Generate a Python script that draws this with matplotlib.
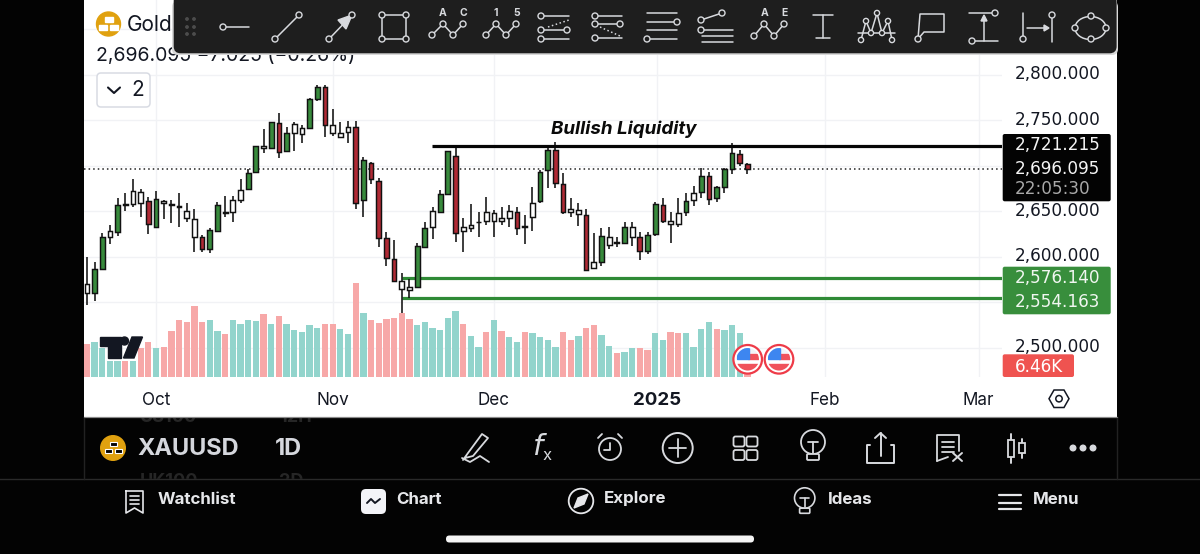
import matplotlib
matplotlib.use("Agg")
import matplotlib.pyplot as plt
from matplotlib.patches import Circle, Ellipse, FancyBboxPatch, Polygon, Rectangle
from matplotlib.transforms import ScaledTranslation

plt.rcParams['font.family'] = ['Inter', 'DejaVu Sans']

# ---------- data ----------
high = [2600.1,2594.6,2625.7,2634.9,2664.2,2670.4,2685.4,2674.1,2665.3,2672.6,2662.3,2662.3,2669.7,2659.4,2652.5,2623.9,2631.2,2660.5,2666.7,2666.7,2685.1,2696.4,2721.7,2740.0,2748.4,2758.3,2742.9,2747.7,2744.8,2774.1,2789.1,2789.1,2762.0,2747.7,2749.5,2749.2,2710.0,2704.5,2686.2,2626.8,2618.4,2581.8,2575.5,2614.7,2638.5,2655.0,2673.3,2716.5,2722.5,2642.2,2657.9,2649.5,2666.0,2651.3,2655.0,2656.8,2655.0,2645.4,2676.2,2695.3,2720.9,2725.7,2692.3,2664.1,2658.6,2652.0,2626.4,2631.5,2633.0,2621.3,2638.5,2638.1,2627.5,2627.1,2660.5,2664.9,2649.1,2664.1,2669.6,2678.1,2697.1,2693.4,2677.7,2697.1,2724.6,2717.2,2702.6]
body_top = [2569.7,2586.2,2622.0,2627.9,2656.8,2657.9,2672.2,2671.5,2661.2,2663.1,2661.2,2657.9,2655.4,2650.6,2641.5,2621.3,2629.0,2656.5,2648.8,2662.0,2673.3,2692.0,2721.3,2722.1,2748.4,2746.6,2735.6,2745.9,2741.5,2773.3,2786.5,2786.2,2744.8,2735.6,2742.9,2742.2,2706.3,2703.4,2682.9,2620.2,2597.5,2572.9,2566.7,2611.7,2631.9,2649.8,2669.3,2715.8,2710.7,2632.3,2635.2,2638.5,2649.5,2648.4,2642.9,2649.8,2648.7,2633.4,2659.4,2693.4,2717.2,2716.9,2679.9,2652.0,2651.7,2646.2,2593.8,2622.7,2622.0,2615.8,2633.0,2632.6,2621.3,2623.8,2657.5,2656.8,2639.2,2648.0,2660.8,2669.6,2688.3,2688.3,2676.6,2696.0,2714.3,2713.2,2702.2]
body_bottom = [2559.8,2559.8,2586.5,2622.0,2627.5,2656.8,2657.6,2658.7,2635.6,2633.0,2658.7,2656.5,2654.6,2642.6,2622.0,2608.1,2608.1,2628.6,2648.1,2649.5,2662.3,2674.8,2693.5,2719.9,2719.1,2715.5,2716.6,2735.6,2734.5,2741.1,2773.0,2744.4,2736.0,2731.9,2737.4,2659.4,2662.7,2685.1,2620.2,2598.2,2573.3,2564.9,2563.4,2567.1,2611.0,2632.6,2649.5,2669.3,2625.7,2627.9,2631.2,2637.8,2639.6,2638.9,2639.2,2642.9,2631.5,2632.6,2643.2,2661.2,2695.6,2681.0,2648.7,2649.1,2646.5,2585.4,2587.9,2594.2,2612.5,2615.0,2615.4,2622.0,2605.9,2605.9,2624.9,2639.6,2635.9,2635.6,2648.7,2662.3,2670.7,2663.4,2664.1,2676.6,2696.0,2703.0,2696.0]
low = [2547.0,2551.3,2585.4,2614.0,2622.8,2649.9,2655.0,2643.3,2625.0,2633.0,2641.1,2636.7,2632.3,2638.2,2605.2,2605.6,2604.5,2628.3,2644.0,2638.2,2658.7,2673.3,2692.4,2714.4,2718.4,2708.9,2716.2,2716.6,2724.6,2740.0,2771.5,2731.9,2732.7,2731.9,2724.6,2652.5,2643.3,2679.9,2610.3,2589.8,2572.6,2537.8,2554.2,2566.3,2610.6,2619.1,2649.1,2668.5,2616.1,2605.5,2627.5,2621.3,2634.5,2622.0,2634.5,2632.3,2623.8,2613.6,2627.9,2658.6,2675.9,2675.1,2646.5,2644.0,2633.7,2584.6,2586.8,2589.8,2608.5,2610.3,2614.7,2611.7,2596.4,2603.0,2622.7,2636.7,2614.7,2633.0,2645.1,2655.7,2664.5,2657.2,2659.7,2669.6,2690.5,2700.0,2691.2]
body_kind = list("WGGWGWWWRGWWWWWRGGWWWGGWGRGWWGGRWWWRGRRRRW" "WGGWGGRWWWWWWWRWWGGRRWWRWGWWGWRGGRWWGWGRGGGRR")
volume_k = [52.8,56.5,45.9,26.1,26.1,26.1,26.1,45.9,56.5,46.9,48.5,73.6,91.2,88.5,113.6,87.5,91.2,73.6,68.3,91.2,84.3,91.2,89.6,100.3,84.8,97.6,84.8,75.2,71.5,83.2,77.9,85.3,84.3,76.8,68.8,149.9,101.9,91.7,86.9,92.8,94.9,102.9,93.3,83.2,88.0,77.9,74.7,94.9,106.1,84.8,66.1,47.5,71.5,91.2,74.1,64.0,55.5,71.5,70.4,64.0,59.7,47.5,72.0,59.7,65.1,78.4,83.2,67.2,49.1,37.9,40.0,46.9,46.9,42.7,70.4,59.2,72.5,69.9,69.9,48.0,76.3,88.0,76.8,74.7,83.7,70.4,6.46]
volume_dir = list("RTTTTRTRRTRRRRRRTTRTTTTRTRTTTTTRRTTRTRRRRR" "RTTTTTTRTTRTRTTRTTTTRRTRRTTRTTRRTTRRTTTTRTTTRR")

x_tick_pos = [9, 32, 53, 74.2, 96.1, 116.1]
x_tick_labels = ['Oct', 'Nov', 'Dec', '2025', 'Feb', 'Mar']
grid_prices = [2500, 2550, 2600, 2650, 2700, 2750, 2800, 2850]
labelled_prices = [2500, 2600, 2650, 2750, 2800]
price_labels = ['2,500.000', '2,600.000', '2,650.000', '2,750.000', '2,800.000']
last_price = 2696.095
resistance = 2721.215
support_levels = [2576.140, 2554.163]

W, H = 1200, 554
GREEN, RED = '#388a3c', '#b02a35'
KIND = {'W': '#ffffff', 'G': GREEN, 'R': RED}
VOLC = {'T': '#92d4cc', 'R': '#f7a8a8'}
ICON = '#d8dade'
ONDARK = '#e6e7ea'
PRICE_FONT = ['DejaVu Sans']

fig = plt.figure(figsize=(W / 100, H / 100), dpi=100, facecolor='#030303')


def rect_px(l, t, r, b):
    return [l / W, 1 - b / H, (r - l) / W, (b - t) / H]


def overlay(z):
    a = fig.add_axes([0, 0, 1, 1], zorder=z, facecolor='none')
    a.set_xlim(0, W)
    a.set_ylim(H, 0)
    a.axis('off')
    return a


# white panel and ghost rows behind it
back = overlay(0)
for gy, sym, tf in ((417, 'US100', '12H'), (482, 'UK100', '2D')):
    back.text(140, gy, sym, color='#262626', fontsize=13, fontweight='bold', va='center')
    back.text(279, gy, tf, color='#262626', fontsize=13, fontweight='bold', va='center')
back.add_patch(Rectangle((0, 479), W, 75, color='#030303', zorder=5))
back.add_patch(Rectangle((84, 0), 1032.5, 417, facecolor='#ffffff', edgecolor='none', zorder=6))
back.plot([84, 1116.5], [417.3, 417.3], color='#8a8a8a', lw=0.9, zorder=7)
back.plot([0, W], [479, 479], color='#2a2a2a', lw=1, zorder=7)
for xx in (83.5, 1116.5):
    back.plot([xx, xx], [418, 479], color='#222222', lw=1, zorder=7)

pos = rect_px(84, 0, 1002, 377)
xlim = (-0.378, 119.15)
ylim = (2467.8, 2882.1)

# grid
gax = fig.add_axes(pos, zorder=1, facecolor='none')
gax.set_xlim(xlim)
gax.set_ylim(ylim)
gax.set_xticks(x_tick_pos)
gax.set_yticks(grid_prices)
gax.tick_params(length=0, labelbottom=False, labelleft=False)
gax.grid(True, color='#f1f2f5', lw=1)
for s in gax.spines.values():
    s.set_visible(False)

# volume
vax = fig.add_axes(pos, zorder=2, facecolor='none')
vax.set_xlim(xlim)
vax.set_ylim(0, 603.2)
vax.axis('off')
xs = list(range(len(high)))
vax.bar(xs, volume_k, width=0.82, color=[VOLC[d] for d in volume_dir], linewidth=0)

# candles
ax = fig.add_axes(pos, zorder=3, facecolor='none')
ax.set_xlim(xlim)
ax.set_ylim(ylim)
ax.vlines(xs, low, high, color='#111111', lw=1.15, zorder=3)
ax.bar(xs, [t - b for t, b in zip(body_top, body_bottom)], bottom=body_bottom, width=0.62,
       color=[KIND[k] for k in body_kind], edgecolor='#111111', linewidth=1.05, zorder=4)
ax.axhline(last_price, color='#222222', lw=1.1, ls=(0, (1, 2)), zorder=2)
ax.hlines(resistance, 44.9, xlim[1], color='#050505', lw=2.3, zorder=5)
ax.hlines(support_levels, 41.0, xlim[1], color='#2f8a36', lw=2.3, zorder=2)
ax.text(69.9, 2740.5, 'Bullish Liquidity', ha='center', va='center', fontsize=13.5,
        fontweight='bold', fontstyle='italic', color='#0a0a0a')

ax.set_xticks(x_tick_pos)
ax.set_xticklabels(x_tick_labels, fontsize=12.3, color='#131722')
ax.set_yticks(labelled_prices)
ax.set_yticklabels(price_labels, fontsize=12.2, color='#131722', family=PRICE_FONT)
ax.yaxis.tick_right()
ax.tick_params(axis='both', length=0)
ax.tick_params(axis='x', pad=10.7)
ax.tick_params(axis='y', pad=9.5)
for s in ax.spines.values():
    s.set_visible(False)
ax.get_xticklabels()[3].set_fontweight('bold')
ax.get_xticklabels()[3].set_fontsize(13.5)
up = ScaledTranslation(0, 0.026, fig.dpi_scale_trans)
for lbl in ax.get_yticklabels():
    lbl.set_transform(lbl.get_transform() + up)

# ---------- interface overlay in pixels ----------
o = overlay(10)


def poly(pts, **k):
    k.setdefault('closed', False)
    k.setdefault('fill', False)
    o.add_patch(Polygon(pts, **k))


def line(pts, c=ICON, lw=1.1, ls='-', z=12):
    o.plot([p[0] for p in pts], [p[1] for p in pts], color=c, lw=lw, ls=ls, zorder=z,
           solid_capstyle='round')


def ring(x, y, r=3, c=ICON, fc='#1e1e1e', lw=1.0, z=13):
    o.add_patch(Circle((x, y), r, facecolor=fc, edgecolor=c, lw=lw, zorder=z))


def rbox(l, t, r, b, rad, fc, ec='none', lw=0, z=9):
    o.add_patch(FancyBboxPatch((l + rad, t + rad), r - l - 2 * rad, b - t - 2 * rad,
                               boxstyle=f'round,pad={rad},rounding_size={rad}',
                               facecolor=fc, edgecolor=ec, lw=lw, zorder=z))


def wave(xsv, low_y=35, high_y=24):
    pts = [(xsv[0], low_y), (xsv[1], high_y), (xsv[2], low_y), (xsv[3], high_y)]
    line(pts)
    for p in pts:
        ring(*p)


# legend
o.add_patch(Circle((108.5, 24), 12, color='#e0a10f', zorder=2))
for bx, by in ((108.5, 19), (103, 27), (114, 27)):
    o.add_patch(Rectangle((bx - 4, by - 2.5), 8, 5, color='#ffffff', zorder=3))
o.text(127, 25, 'Gold', fontsize=15, color='#131722', va='center', zorder=2)
o.text(96, 56, '2,696.095 \u22127.025 (\u22120.26%)', fontsize=14, color='#131722', va='center', zorder=2)
rbox(97, 73, 150, 107, 4, '#ffffff', ec='#d8dbe3', lw=1.1, z=2)
line([(108, 87.5), (114, 93), (120, 87.5)], c='#131722', lw=1.5, z=3)
o.text(137.5, 90, '2', fontsize=15, color='#131722', ha='center', va='center', zorder=3)

# TradingView mark
NAVY = '#131722'
poly([(100, 337), (120.5, 337), (120.5, 358), (108, 358), (108, 345.5), (100, 345.5)], closed=True, fill=True, color=NAVY, zorder=6)
o.add_patch(Circle((124.5, 341), 4, color=NAVY, zorder=6))
poly([(132, 337), (142.5, 337), (134, 358), (123.5, 358)], closed=True, fill=True, color=NAVY, zorder=6)

# event flags
for fx in (747.7, 779):
    o.add_patch(Circle((fx, 359.3), 14.3, facecolor='#ffffff', edgecolor='#ee3b48', lw=1.6, zorder=6))
    clip = Circle((fx, 359.3), 11.2, transform=o.transData)
    for (l, t, w, h, c) in ((fx - 11, 348, 22, 4, '#f2f4f8'), (fx, 354, 11, 5, '#f0525c'),
                            (fx - 11, 364, 22, 7, '#f0525c'), (fx - 11, 348, 12, 11, '#3d86f0')):
        r = Rectangle((l, t), w, h, color=c, zorder=7)
        o.add_patch(r)
        r.set_clip_path(clip)

# price tags
rbox(1002.7, 134, 1110.7, 201.3, 2, '#030303', z=6)
rbox(1002.7, 266.7, 1110.7, 314.3, 2, '#388e3c', z=6)
rbox(1002.7, 354.3, 1074, 377, 2, '#ef5350', z=6)
for ty, tx, tc in ((145, '2,721.215', '#f4f4f4'), (169, '2,696.095', '#f4f4f4'), (188.5, '22:05:30', '#a8a8a8'),
                   (278, '2,576.140', '#f0f6f0'), (302, '2,554.163', '#f0f6f0'), (367, '6.46K', '#ffffff')):
    o.text(1015, ty, tx, fontsize=12.2, color=tc, va='center', zorder=7, family=PRICE_FONT)
poly([(1049, 398.7), (1054, 390), (1064, 390), (1069, 398.7), (1064, 407.5), (1054, 407.5)], closed=True,
     ec='#131722', lw=1.1, zorder=6)
o.add_patch(Circle((1059, 398.7), 3.2, fc='none', ec='#131722', lw=1.1, zorder=6))

# drawing toolbar
rbox(172, 1, 1118, 55, 6, '#d8d8d8', z=7)
rbox(173.7, -6, 1116.6, 53.3, 7, '#1e1e1e', z=8)
for dx in (187, 194):
    for dy in (19, 27, 34):
        o.add_patch(Circle((dx, dy), 1.2, color='#4d4d4d', zorder=12))
line([(225, 27), (249, 27)]); ring(223, 27)
line([(275, 39), (299, 15)]); ring(275, 39); ring(299, 15)
line([(329, 39), (352, 15)]); ring(329, 39); ring(352, 15)
poly([(352, 15), (338, 20), (346, 29)], closed=True, fill=True, color=ICON, zorder=12)
line([(382, 15), (406, 15), (406, 39), (382, 39), (382, 15)])
for p in ((382, 15), (406, 15), (382, 39), (406, 39)):
    ring(*p)
wave((432, 443, 453, 463))
o.text(443, 13, 'A', color=ICON, fontsize=7.5, fontweight='bold', ha='center', va='center', zorder=12)
o.text(463, 13, 'C', color=ICON, fontsize=7.5, fontweight='bold', ha='center', va='center', zorder=12)
wave((486, 496, 506, 516))
o.text(496, 13, '1', color=ICON, fontsize=7.5, fontweight='bold', ha='center', va='center', zorder=12)
o.text(517, 13, '5', color=ICON, fontsize=7.5, fontweight='bold', ha='center', va='center', zorder=12)
for yy in (16, 30, 39):
    line([(541, yy), (569, yy)])
    ring(541, yy)
ring(567, 30)
line([(548, 27), (569, 20)], ls=':')
for yy in (16, 24, 38):
    line([(595, yy), (622, yy)])
    ring(595, yy)
ring(620, 24)
line([(600, 27), (620, 36)], ls=':')
for yy in (13, 22, 30, 39):
    line([(647, yy), (677, yy)])
ring(677, 22); ring(647, 39)
line([(701, 20), (722, 13)]); ring(701, 20); ring(722, 13); ring(701, 30)
for yy in (30, 36, 42):
    line([(702, yy), (733, yy)])
wave((754, 764, 774, 784), 36, 24)
o.text(765, 13, 'A', color=ICON, fontsize=7.5, fontweight='bold', ha='center', va='center', zorder=12)
o.text(784, 13, 'E', color=ICON, fontsize=7.5, fontweight='bold', ha='center', va='center', zorder=12)
line([(813, 15), (833, 15)]); line([(823, 15), (823, 38)]); line([(816, 38), (830, 38)])
xabcd = [(861, 40), (866, 21), (871, 33), (877, 13), (882, 33), (888, 21), (892, 40)]
line(xabcd); line([(858, 33), (895, 33)])
for p in xabcd:
    ring(p[0], p[1], 2.6)
line([(918, 39), (920, 14), (944, 14), (944, 32), (924, 32), (918, 39)]); ring(918, 39)
line([(969, 13), (992, 13)]); ring(995, 13); line([(975, 41), (998, 41)]); ring(972, 41)
line([(984, 41), (984, 18)]); poly([(984, 15), (981, 21), (987, 21)], closed=True, fill=True, color=ICON, zorder=12)
line([(1023, 13), (1023, 36)]); ring(1023, 39); line([(1052, 18), (1052, 42)]); ring(1052, 15)
line([(1027, 28), (1046, 28)]); poly([(1049, 28), (1044, 25), (1044, 31)], closed=True, fill=True, color=ICON, zorder=12)
o.add_patch(Ellipse((1090.5, 28), 31, 23, fc='none', ec=ICON, lw=1.1, zorder=12))
for p in ((1075, 28), (1091, 16), (1106, 28), (1091, 39)):
    ring(*p)

# lower toolbar
BK = '#030303'
o.add_patch(Circle((113, 448), 12.3, color='#e0a10f', zorder=4))
for bx, by in ((113, 444), (108, 451), (118, 451)):
    o.add_patch(Rectangle((bx - 3.5, by - 2), 7, 4, fc=BK, ec='#ffffff', lw=0.8, zorder=5))
o.text(137, 449, 'XAUUSD', fontsize=17, fontweight='bold', color='#d5d7dd', va='center', zorder=4)
o.text(275, 449, '1D', fontsize=17, fontweight='bold', color='#d5d7dd', va='center', zorder=4)
line([(463, 460), (468, 453), (482, 434), (488, 438), (473, 456), (465, 458)], c=ICON, lw=1.3)
line([(462, 458), (470, 462), (480, 456), (489, 462)], c=ICON, lw=1.3)
o.text(537, 447, 'f', fontsize=21, color=ICON, ha='center', va='center', zorder=12, family=PRICE_FONT, fontstyle='italic')
o.text(547, 456, 'x', fontsize=12, color=ICON, ha='center', va='center', zorder=12)
ring(610, 449, 11, fc=BK, lw=1.3)
line([(610, 443), (610, 450), (604, 450)], lw=1.3, z=14); line([(598, 438), (602, 434)], lw=1.3, z=14); line([(622, 438), (618, 434)], lw=1.3, z=14)
ring(677.7, 448, 15, fc=BK, lw=1.4)
line([(669, 448), (686, 448)], lw=1.3, z=14); line([(677.7, 439), (677.7, 457)], lw=1.3, z=14)
for cx in (739, 752):
    for cy in (441.5, 455):
        rbox(cx - 5.5, cy - 5, cx + 5.5, cy + 5, 2, 'none', ec=ICON, lw=1.3, z=12)


def bulb(x, y, s=1.0, lw=1.3):
    ring(x, y, 12 * s, fc=BK, lw=lw)
    line([(x - 5 * s, y), (x + 5 * s, y)], lw=lw, z=14); line([(x, y), (x, y + 11 * s)], lw=lw, z=14)
    rbox(x - 6 * s, y + 12 * s, x + 6 * s, y + 18 * s, 1, BK, ec=ICON, lw=lw, z=13)


bulb(813, 442)
line([(870, 445), (867, 445), (867, 463), (894, 463), (894, 445), (891, 445)], lw=1.4)
line([(880.5, 456), (880.5, 433)], lw=1.4); line([(875, 438), (880.5, 433), (886, 438)], lw=1.4)
line([(937, 461), (937, 435), (959, 435), (959, 451)], lw=1.3)
line([(937, 461), (948, 457)], lw=1.3)
for yy in (442, 447, 452):
    line([(942, yy), (954, yy)], lw=1.3)
line([(953, 453), (962, 461)], lw=1.4); line([(962, 453), (953, 461)], lw=1.4)
line([(1011, 434), (1011, 463)], lw=1.4)
o.add_patch(Rectangle((1008, 440), 6, 17, fc=BK, ec=ICON, lw=1.3, zorder=13))
line([(1022, 439), (1022, 458)], lw=1.4)
o.add_patch(Rectangle((1019, 443), 6, 10, fc=BK, ec=ICON, lw=1.3, zorder=13))
for dx in (1073, 1083, 1093):
    o.add_patch(Circle((dx, 448), 2.8, color=ICON, zorder=12))

# bottom navigation
for tx, label in ((157.5, 'Watchlist'), (396.5, 'Chart'), (604, 'Explore'), (827.5, 'Ideas'), (1033, 'Menu')):
    o.text(tx, 499, label, fontsize=12.2, fontweight='bold', color=ONDARK, va='center', zorder=12)
line([(126, 491), (143, 491), (143, 513), (134.5, 508), (126, 513), (126, 491)], c=ONDARK, lw=1.2)
for yy in (496, 500, 504):
    line([(130, yy), (139, yy)], c=ONDARK, lw=1.2)
rbox(361, 489, 386, 514, 5, '#f3f4f8', z=12)
line([(367, 503), (371, 499), (375, 503), (380, 499)], c='#131722', lw=1.4, z=13)
ring(581, 501, 12.3, c=ONDARK, fc=BK, lw=1.3)
poly([(588, 494), (584, 504), (574, 508), (578, 498)], closed=True, fill=True, color=ONDARK, zorder=14)
bulb(804.7, 498, 0.85, 1.2)
for yy in (495, 503, 509):
    line([(999, yy), (1021, yy)], c=ONDARK, lw=1.6)
rbox(446, 535.5, 754, 542.5, 3.4, '#f5f5f5', z=12)

fig.savefig('out.png', dpi=100, facecolor=fig.get_facecolor())
